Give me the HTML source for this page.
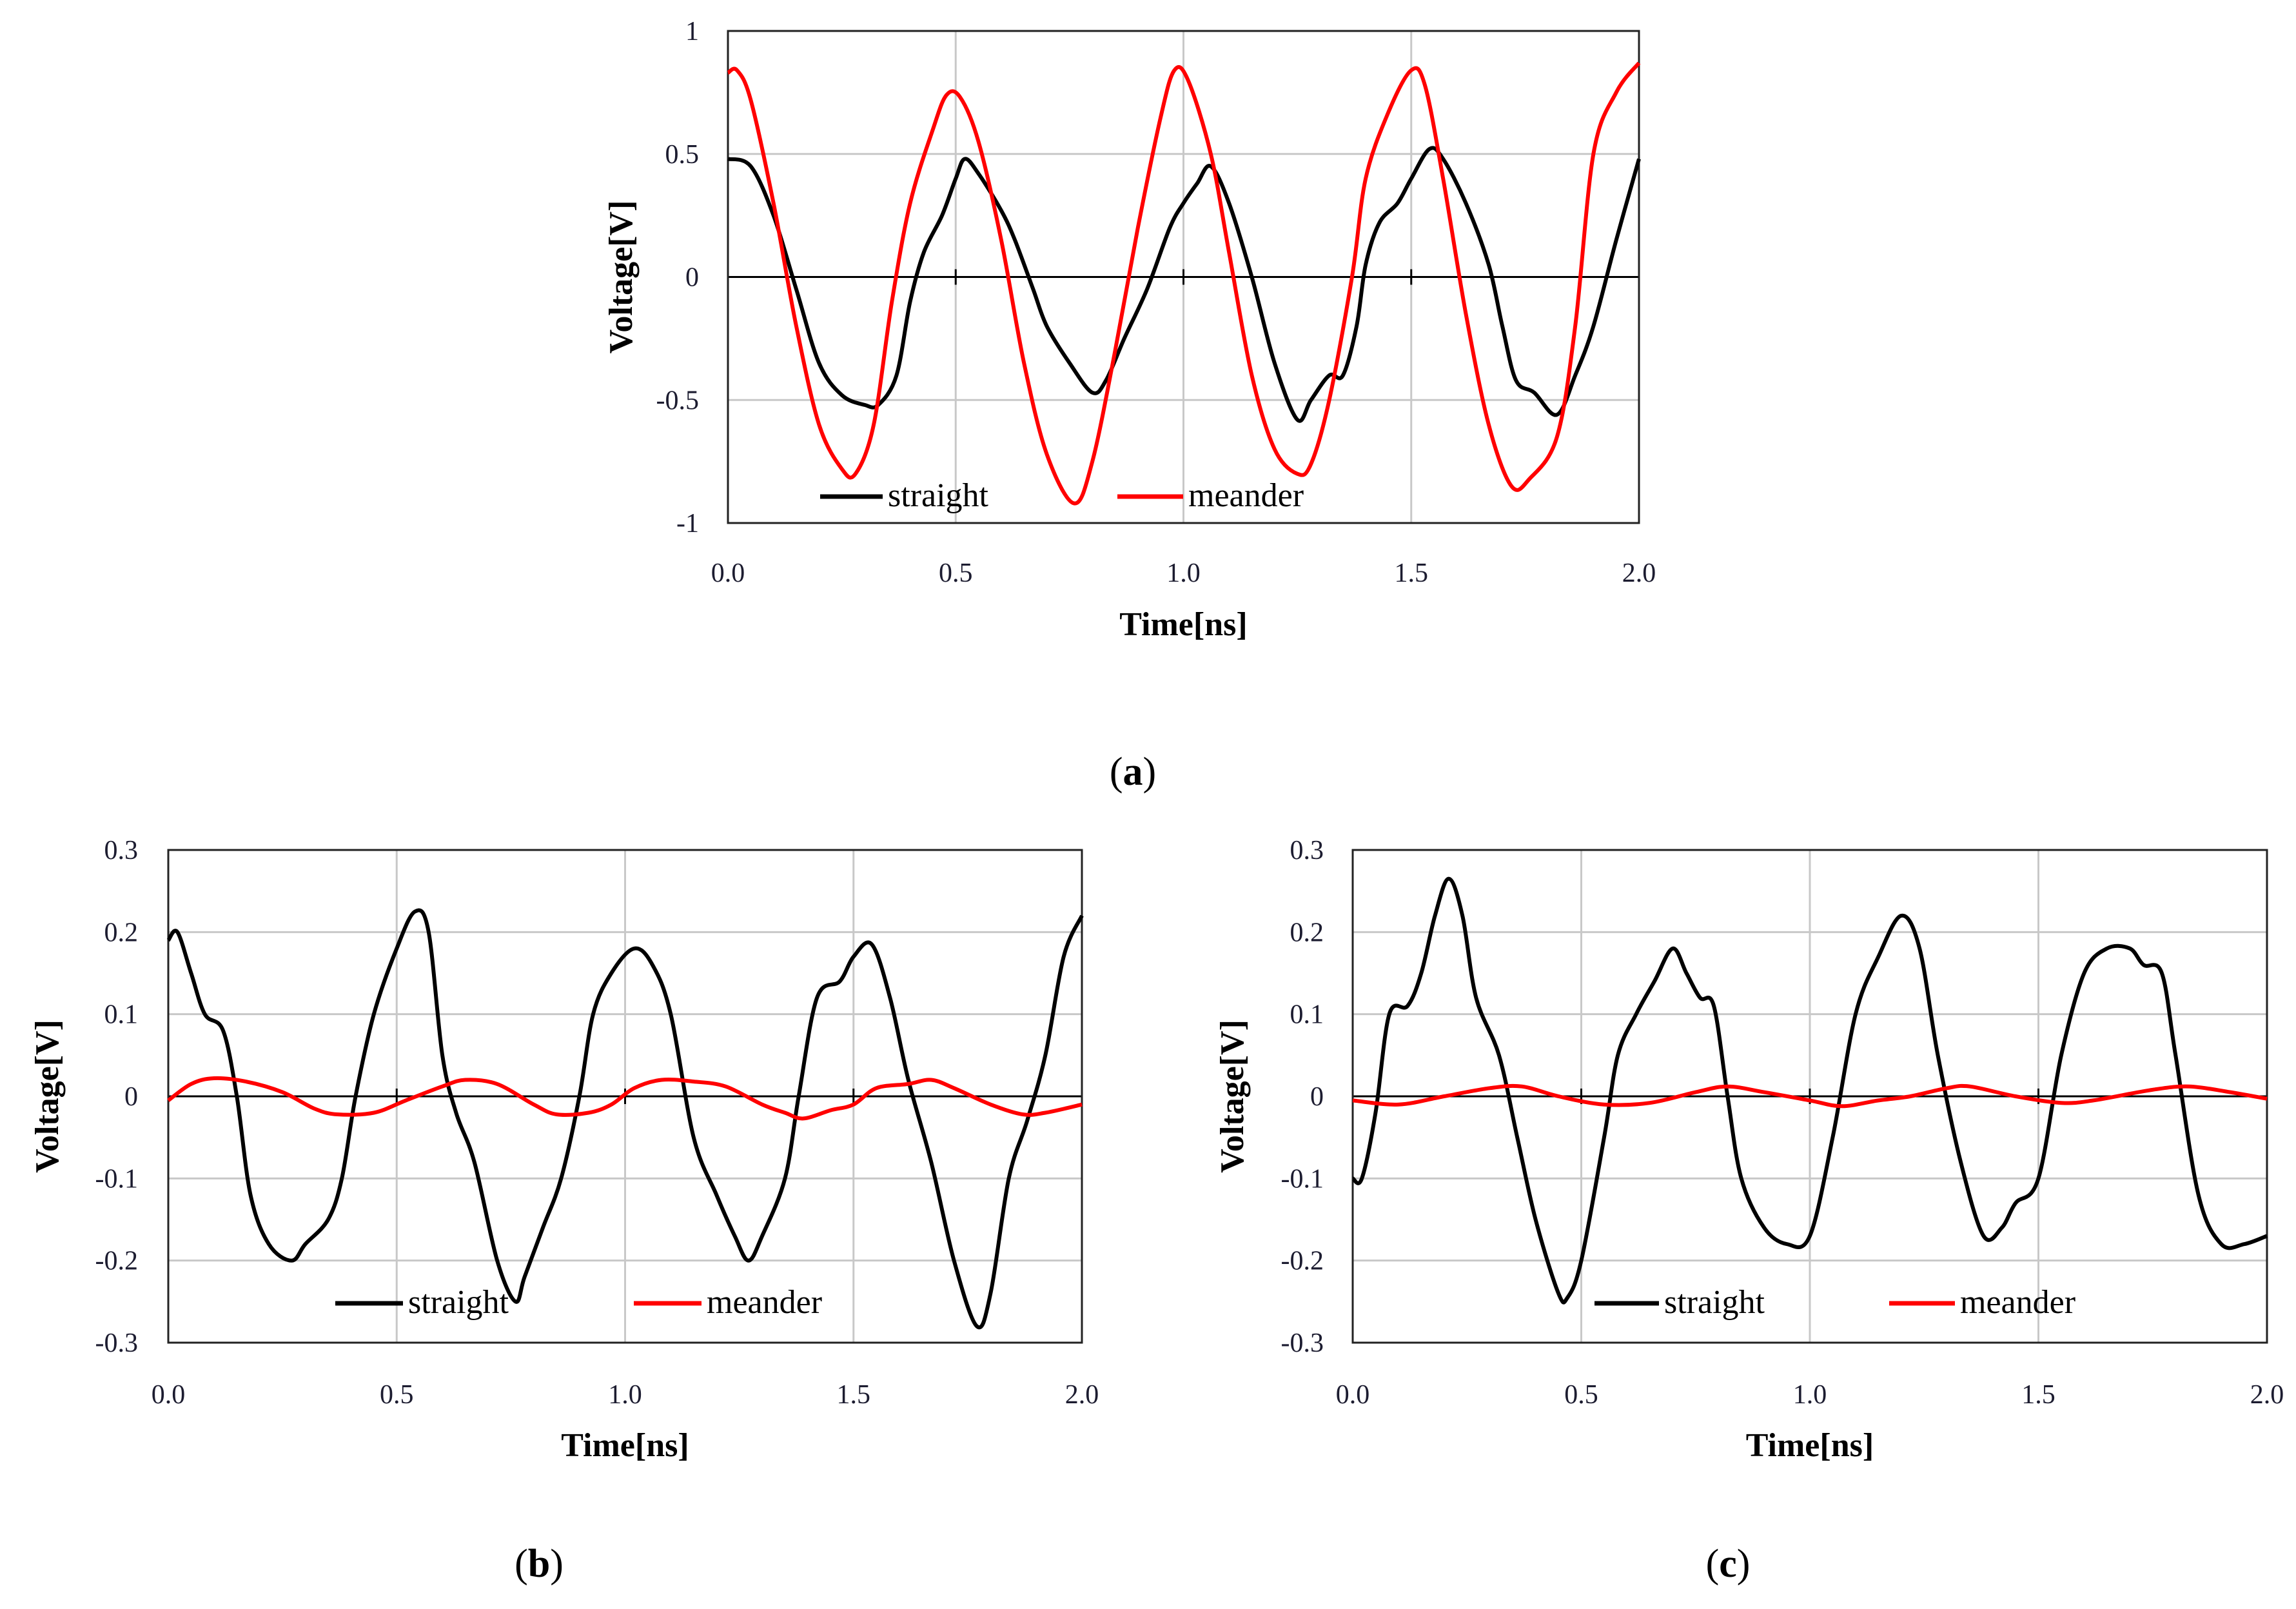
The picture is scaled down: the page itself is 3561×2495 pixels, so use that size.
<!DOCTYPE html>
<html><head><meta charset="utf-8">
<style>
html,body{margin:0;padding:0;background:#fff;}
svg{display:block;}
text{font-family:"Liberation Serif",serif;}
</style></head>
<body>
<svg id="fig" width="3561" height="2495" viewBox="0 0 3561 2495" xmlns="http://www.w3.org/2000/svg"></svg>
<script>
// ---- Panel (a) data ----
const aStraightT=[0,0.05,0.1,0.15,0.2,0.25,0.3,0.33,0.37,0.4,0.43,0.47,0.5,0.52,0.55,0.6,0.63,0.67,0.7,0.75,0.8,0.83,0.87,0.92,0.97,1.0,1.03,1.06,1.1,1.15,1.2,1.25,1.28,1.32,1.35,1.38,1.4,1.43,1.47,1.5,1.54,1.57,1.62,1.67,1.7,1.73,1.77,1.82,1.86,1.9,1.95,2.0];
const aStraightV=[0.48,0.45,0.25,-0.05,-0.35,-0.48,-0.52,-0.52,-0.4,-0.1,0.1,0.25,0.4,0.48,0.42,0.27,0.15,-0.05,-0.2,-0.35,-0.47,-0.42,-0.25,-0.05,0.2,0.3,0.38,0.45,0.3,0.0,-0.35,-0.58,-0.5,-0.4,-0.4,-0.2,0.05,0.22,0.3,0.4,0.52,0.48,0.3,0.05,-0.2,-0.42,-0.47,-0.56,-0.4,-0.2,0.15,0.48];
const aMeanderT=[0,0.02,0.05,0.1,0.15,0.2,0.25,0.28,0.32,0.36,0.4,0.45,0.48,0.51,0.55,0.6,0.65,0.7,0.76,0.8,0.85,0.9,0.95,0.98,1.01,1.06,1.1,1.15,1.2,1.25,1.28,1.32,1.37,1.4,1.45,1.5,1.53,1.57,1.62,1.67,1.72,1.76,1.82,1.86,1.9,1.95,2.0];
const aMeanderV=[0.83,0.84,0.72,0.3,-0.2,-0.6,-0.78,-0.8,-0.6,-0.1,0.3,0.6,0.74,0.73,0.55,0.15,-0.35,-0.72,-0.92,-0.75,-0.3,0.2,0.65,0.84,0.8,0.5,0.1,-0.4,-0.7,-0.8,-0.76,-0.5,0.0,0.4,0.67,0.84,0.78,0.4,-0.15,-0.6,-0.85,-0.82,-0.65,-0.2,0.5,0.75,0.87];
const aYTicks=[1,0.5,0,-0.5,-1];
const aYLabels=["1","0.5","0","-0.5","-1"];
// ---- Panel (b) data ----
const bStraightT=[0,0.02,0.05,0.08,0.12,0.15,0.18,0.22,0.27,0.3,0.35,0.38,0.41,0.45,0.5,0.54,0.57,0.6,0.63,0.67,0.72,0.76,0.78,0.82,0.86,0.9,0.93,0.97,1.02,1.06,1.1,1.15,1.2,1.24,1.27,1.3,1.35,1.38,1.42,1.47,1.5,1.54,1.58,1.62,1.67,1.72,1.77,1.8,1.84,1.88,1.92,1.96,2.0];
const bStraightV=[0.19,0.2,0.15,0.1,0.08,0.0,-0.12,-0.18,-0.2,-0.18,-0.15,-0.1,0.0,0.1,0.18,0.225,0.2,0.05,-0.02,-0.08,-0.2,-0.25,-0.22,-0.16,-0.1,0.0,0.1,0.15,0.18,0.16,0.1,-0.05,-0.12,-0.17,-0.2,-0.17,-0.1,0.0,0.12,0.14,0.17,0.185,0.12,0.02,-0.08,-0.2,-0.28,-0.24,-0.1,-0.03,0.05,0.17,0.22];
const bMeanderT=[0,0.05,0.1,0.17,0.25,0.32,0.37,0.45,0.52,0.6,0.65,0.72,0.8,0.85,0.92,0.97,1.02,1.08,1.15,1.22,1.3,1.35,1.39,1.45,1.5,1.55,1.62,1.67,1.72,1.8,1.87,1.92,2.0];
const bMeanderV=[-0.005,0.015,0.022,0.018,0.005,-0.015,-0.022,-0.02,-0.005,0.012,0.02,0.015,-0.01,-0.022,-0.02,-0.01,0.01,0.02,0.018,0.012,-0.01,-0.02,-0.027,-0.017,-0.01,0.01,0.015,0.02,0.01,-0.01,-0.022,-0.02,-0.01];
// ---- Panel (c) data ----
const cStraightT=[0,0.02,0.05,0.08,0.12,0.15,0.18,0.21,0.24,0.27,0.32,0.36,0.4,0.45,0.47,0.5,0.55,0.58,0.62,0.66,0.7,0.73,0.76,0.79,0.82,0.85,0.9,0.95,1.0,1.05,1.1,1.15,1.2,1.24,1.28,1.33,1.38,1.42,1.45,1.5,1.55,1.6,1.65,1.7,1.73,1.77,1.8,1.85,1.9,1.95,2.0];
const cStraightV=[-0.1,-0.1,-0.02,0.1,0.11,0.15,0.22,0.265,0.22,0.12,0.05,-0.05,-0.15,-0.24,-0.245,-0.2,-0.05,0.05,0.1,0.14,0.18,0.15,0.12,0.11,0.0,-0.1,-0.16,-0.18,-0.17,-0.05,0.1,0.17,0.22,0.18,0.05,-0.08,-0.17,-0.16,-0.13,-0.1,0.05,0.15,0.18,0.18,0.16,0.15,0.05,-0.12,-0.18,-0.18,-0.17];
const cMeanderT=[0,0.1,0.2,0.3,0.37,0.45,0.55,0.65,0.75,0.82,0.9,1.0,1.07,1.15,1.22,1.3,1.35,1.45,1.55,1.62,1.75,1.83,1.92,2.0];
const cMeanderV=[-0.005,-0.01,0.0,0.01,0.012,0.0,-0.01,-0.008,0.005,0.012,0.005,-0.005,-0.012,-0.005,0.0,0.01,0.012,0.0,-0.008,-0.005,0.008,0.012,0.005,-0.003];
const bcYTicks=[0.3,0.2,0.1,0,-0.1,-0.2,-0.3];
const bcYLabels=["0.3","0.2","0.1","0","-0.1","-0.2","-0.3"];
const xTicks=[0,0.5,1,1.5,2];
const xLabels=["0.0","0.5","1.0","1.5","2.0"];

const NS="http://www.w3.org/2000/svg";
const svg=document.getElementById('fig');
function mk(tag,attrs,parent){const e=document.createElementNS(NS,tag);for(const k in attrs)e.setAttribute(k,attrs[k]);(parent||svg).appendChild(e);return e;}

function smoothPath(xs,ys){
  let d="M"+xs[0].toFixed(1)+","+ys[0].toFixed(1);
  for(let i=0;i<xs.length-1;i++){
    const x0=xs[Math.max(i-1,0)],y0=ys[Math.max(i-1,0)];
    const x1=xs[i],y1=ys[i],x2=xs[i+1],y2=ys[i+1];
    const x3=xs[Math.min(i+2,xs.length-1)],y3=ys[Math.min(i+2,ys.length-1)];
    const c1x=x1+(x2-x0)/6,c1y=y1+(y2-y0)/6,c2x=x2-(x3-x1)/6,c2y=y2-(y3-y1)/6;
    d+=" C"+c1x.toFixed(1)+","+c1y.toFixed(1)+" "+c2x.toFixed(1)+","+c2y.toFixed(1)+" "+x2.toFixed(1)+","+y2.toFixed(1);
  }
  return d;
}

function panel(cfg){
  const g=mk('g',{});
  
  
  const {L,R,T,B,ymin,ymax}=cfg;
  const sx=t=>L+(t-0)/(2-0)*(R-L);
  const sy=v=>B-(v-ymin)/(ymax-ymin)*(B-T);
  cfg.yTicks.forEach((v,i)=>{
    if(v!==0&&v!==ymin&&v!==ymax){
      const l=mk('line',{x1:L,x2:R,y1:sy(v),y2:sy(v),stroke:'#c8c8c8','stroke-width':3},g);
      
      
    }
    const t=mk('text',{x:cfg.yLabelX,y:sy(v)+14,'text-anchor':'end','font-size':42,fill:'#1c1c30'},g);
    t.textContent=cfg.yLabels[i];
    
    
  });
  xTicks.forEach((v,i)=>{
    if(v!==0&&v!==2){
      const l=mk('line',{x1:sx(v),x2:sx(v),y1:T,y2:B,stroke:'#c8c8c8','stroke-width':3},g);
      
      
      const tk=mk('line',{x1:sx(v),x2:sx(v),y1:sy(0)-12,y2:sy(0)+12,stroke:'#000','stroke-width':3},g);
      
      
    }
    const t=mk('text',{x:sx(v),y:cfg.xLabelY,'text-anchor':'middle','font-size':42,fill:'#1c1c30'},g);
    t.textContent=xLabels[i];
    
    
  });
  const z=mk('line',{x1:L,x2:R,y1:sy(0),y2:sy(0),stroke:'#000','stroke-width':3},g);
  
  
  const fr=mk('rect',{x:L,y:T,width:R-L,height:B-T,fill:'none',stroke:'#222','stroke-width':3},g);
  
  
  const s1=mk('path',{d:smoothPath(cfg.sT.map(sx),cfg.sV.map(sy)),fill:'none',stroke:'#000','stroke-width':6,'stroke-linejoin':'round'},g);
  
  
  const s2=mk('path',{d:smoothPath(cfg.mT.map(sx),cfg.mV.map(sy)),fill:'none',stroke:'#ff0000','stroke-width':6,'stroke-linejoin':'round'},g);
  
  
  const lg=mk('g',{},g);
  
  
  const e1=mk('line',{x1:cfg.lg[0],x2:cfg.lg[1],y1:cfg.lgY,y2:cfg.lgY,stroke:'#000','stroke-width':7},lg);
  
  
  const t1=mk('text',{x:cfg.lg[1]+8,y:cfg.lgY+15,'font-size':52,fill:'#000'},lg);
  t1.textContent='straight';
  
  
  const e2=mk('line',{x1:cfg.lg[2],x2:cfg.lg[3],y1:cfg.lgY,y2:cfg.lgY,stroke:'#ff0000','stroke-width':7},lg);
  
  
  const t2=mk('text',{x:cfg.lg[3]+8,y:cfg.lgY+15,'font-size':52,fill:'#000'},lg);
  t2.textContent='meander';
  
  
  const xt=mk('text',{x:(L+R)/2,y:cfg.xTitleY,'text-anchor':'middle','font-size':52,'font-weight':'bold',fill:'#000'},g);
  xt.textContent='Time[ns]';
  
  
  const yt=mk('text',{x:0,y:0,'text-anchor':'middle','font-size':52,'font-weight':'bold',fill:'#000',transform:'translate('+cfg.yTitleX+','+((T+B)/2)+') rotate(-90)'},g);
  yt.textContent='Voltage[V]';
  
  
  const cap=mk('text',{x:cfg.cap[0],y:cfg.cap[1],'text-anchor':'middle','font-size':62,fill:'#000'},g);
  cap.innerHTML='(<tspan font-weight="bold">'+cfg.capL+'</tspan>)';
  
  
}

panel({name:'chart-a',L:1129,R:2542,T:48,B:811,ymin:-1,ymax:1,yTicks:aYTicks,yLabels:aYLabels,yLabelX:1084,xLabelY:902,
  sT:aStraightT,sV:aStraightV,mT:aMeanderT,mV:aMeanderV,lg:[1272,1369,1733,1835],lgY:770,xTitleY:985,yTitleX:980,cap:[1757,1217],capL:'a'});
panel({name:'chart-b',L:261,R:1678,T:1318,B:2082,ymin:-0.3,ymax:0.3,yTicks:bcYTicks,yLabels:bcYLabels,yLabelX:214,xLabelY:2176,
  sT:bStraightT,sV:bStraightV,mT:bMeanderT,mV:bMeanderV,lg:[520,625,983,1088],lgY:2021,xTitleY:2258,yTitleX:90,cap:[836,2445],capL:'b'});
panel({name:'chart-c',L:2098,R:3516,T:1318,B:2082,ymin:-0.3,ymax:0.3,yTicks:bcYTicks,yLabels:bcYLabels,yLabelX:2053,xLabelY:2176,
  sT:cStraightT,sV:cStraightV,mT:cMeanderT,mV:cMeanderV,lg:[2473,2573,2930,3032],lgY:2021,xTitleY:2258,yTitleX:1928,cap:[2680,2445],capL:'c'});
</script>
</body></html>
